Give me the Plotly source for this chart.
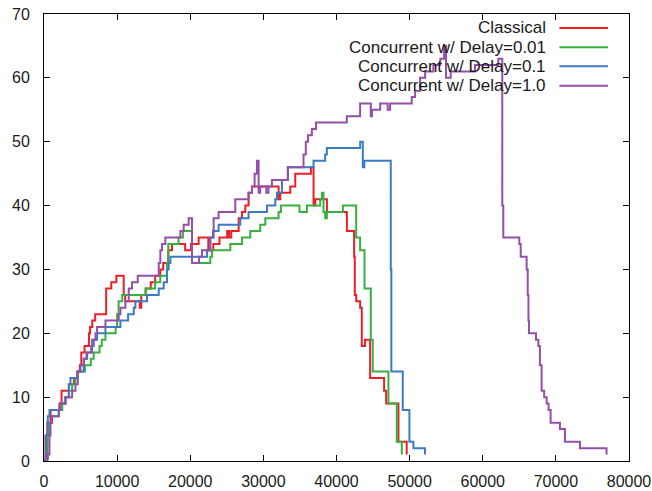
import plotly.graph_objects as go

# ---- data (step vertices) ----
classical_x = [0, 200, 450, 900, 2100, 2400, 3400, 4100, 4550, 4900, 5100, 5550, 6150, 6300, 6600, 7000,
               8500, 9200, 9900, 10900, 11100, 13100, 13300, 13900, 14600, 15200, 15900, 16300, 17000, 17500,
               19300, 20100, 21150, 22470, 23150, 24000, 25050, 25300, 25600, 26620, 27070, 27530, 27980,
               28440, 32080, 32310, 33680, 34360, 36500, 36860, 37100, 38690, 41420, 42410, 42500, 42700,
               43230, 43460, 43900, 44600, 46510, 46790, 48470, 49600]
classical_y = [0, 4, 6, 8, 9, 11, 12, 13, 14, 15, 17, 18, 20, 21, 22, 23,
               27, 28, 29, 26, 25, 24, 26, 27, 28, 29, 30, 31, 33, 34,
               33, 34, 35, 33, 34, 35, 36, 35, 36, 38, 39, 40, 42,
               43, 41, 42, 43, 45, 46, 40, 41, 39, 36, 32, 26, 25,
               24, 18, 19, 13, 11, 9, 3, 1]

d001_x = [0, 500, 700, 1100, 2000, 2500, 2900, 3400, 3850, 4300, 4600, 5600, 6400, 6800, 7600, 7900,
          8400, 9800, 10000, 10200, 10700, 13900, 15200, 15900, 16800, 17000, 18400, 19000, 20240, 22740,
          22970, 25480, 27070, 28210, 29570, 30260, 32080, 32400, 34940, 35950, 37770, 38000, 38220,
          38450, 38680, 40870, 42690, 43230, 43830, 44690, 44960, 47100, 48240, 48930]
d001_y = [0, 4, 6, 7, 8, 9, 10, 11, 12, 13, 14, 15, 16, 17, 18, 19,
          20, 21, 23, 25, 26, 27, 28, 29, 31, 34, 35, 36, 31, 32,
          33, 34, 35, 36, 37, 38, 39, 40, 39, 40, 41, 42, 39,
          38, 39, 40, 35, 33, 27, 19, 14, 9, 3, 1]

d01_x = [0, 300, 520, 750, 2250, 2940, 3400, 3620, 4620, 5440, 5900, 6450, 6800, 7260, 8400, 10450,
         11500, 12270, 12500, 14090, 15690, 16370, 16820, 17050, 17280, 22300, 22740, 23100, 23880,
         26840, 27980, 30500, 31630, 31860, 32540, 33350, 36860, 38450, 38680, 43240, 43600, 43800,
         47420, 47500, 49060, 49970, 50520, 52100]
d01_y = [0, 4, 7, 8, 9, 10, 12, 13, 14, 16, 17, 18, 19, 20, 21, 22,
         23, 24, 25, 26, 27, 28, 30, 31, 32, 33, 35, 36, 37,
         38, 39, 40, 41, 42, 44, 46, 47, 48, 49, 50, 46, 47,
         30, 14, 8, 3, 2, 1]

d1_x = [0, 200, 524, 752, 888, 1115, 2030, 2250, 2940, 3850, 4300, 4620, 4990, 5440, 5810, 6580,
        7040, 7260, 8400, 10220, 10450, 11130, 11590, 12040, 12820, 15690, 15910, 16140, 16600, 18650,
        19100, 19780, 20240, 21200, 21600, 22740, 23200, 23880, 26160, 27980, 28440, 28800, 29120,
        29350, 29570, 30400, 30700, 31170, 33350, 35490, 35800, 36100, 36630, 37200, 41410, 43230,
        44690, 44850, 45970, 47000, 47330, 50290, 50750, 51430, 52120, 53250, 54200, 54710, 54980,
        55620, 58940, 62130, 62670, 62810, 65000, 65190, 66000, 66150, 66250, 66320, 67280, 67600,
        67820, 68050, 68400, 68740, 69000, 69280, 70550, 71240, 73290, 76930]
d1_y = [0, 0.4, 1, 4, 6, 7, 8, 9, 10, 11, 12, 14, 15, 16, 17, 19,
        20, 21, 22, 23, 24, 25, 27, 28, 29, 31, 33, 34, 35, 36,
        37, 38, 31, 32, 33, 35, 38, 39, 41, 42, 43, 45, 47,
        42, 43, 42, 43, 44, 46, 48, 50, 51, 52, 53, 54, 56,
        54, 55, 56, 55, 56, 57, 58, 60, 61, 62, 63, 65, 60,
        61, 62, 63, 40, 35, 34, 32, 30, 26, 22, 20, 19, 18,
        15, 11, 10, 9, 8, 6, 5, 3, 2, 1]

names = ["Classical", "Concurrent w/ Delay=0.01", "Concurrent w/ Delay=0.1", "Concurrent w/ Delay=1.0"]
colors = ["#ec1f26", "#38b03f", "#3b7bc4", "#9450a8"]
series = [(classical_x, classical_y), (d001_x, d001_y), (d01_x, d01_y), (d1_x, d1_y)]

x_ticks = [0, 10000, 20000, 30000, 40000, 50000, 60000, 70000, 80000]
y_ticks = [0, 10, 20, 30, 40, 50, 60, 70]

fig = go.Figure()
for (xs, ys), name, col in zip(series, names, colors):
    fig.add_trace(go.Scatter(x=xs, y=ys, mode="lines", name=name,
                             line=dict(color=col, width=2, shape="hv"),
                             showlegend=False))

# gnuplot-style legend: right-aligned text, sample line on the right
row_y = [0.9687, 0.9255, 0.8830, 0.8396]
for name, col, ry in zip(names, colors, row_y):
    fig.add_annotation(x=0.861, y=ry, xref="paper", yref="paper", text=name,
                       showarrow=False, xanchor="right", yanchor="middle",
                       font=dict(family="Liberation Sans, Arial, sans-serif", size=17, color="#1a1a1a"))
    fig.add_shape(type="line", xref="paper", yref="paper", x0=0.881, x1=0.964, y0=ry, y1=ry,
                  line=dict(color=col, width=2))

axis_common = dict(showgrid=False, zeroline=False, showline=True, linecolor="black", linewidth=1,
                   mirror="ticks", ticks="inside", ticklen=6, tickcolor="black", tickwidth=1,
                   automargin=False,
                   tickfont=dict(family="Liberation Sans, Arial, sans-serif", size=16, color="#1a1a1a"))

fig.update_xaxes(range=[0, 80000], tickvals=x_ticks, ticktext=[str(v) for v in x_ticks],
                 ticklabelstandoff=6, **axis_common)
fig.update_yaxes(range=[0, 70], tickvals=y_ticks, ticktext=[str(v) for v in y_ticks],
                 ticklabelstandoff=10, **axis_common)

fig.update_layout(width=652, height=491, margin=dict(l=44, r=23, t=14, b=30),
                  plot_bgcolor="white", paper_bgcolor="white")

fig.write_html("out.html")
